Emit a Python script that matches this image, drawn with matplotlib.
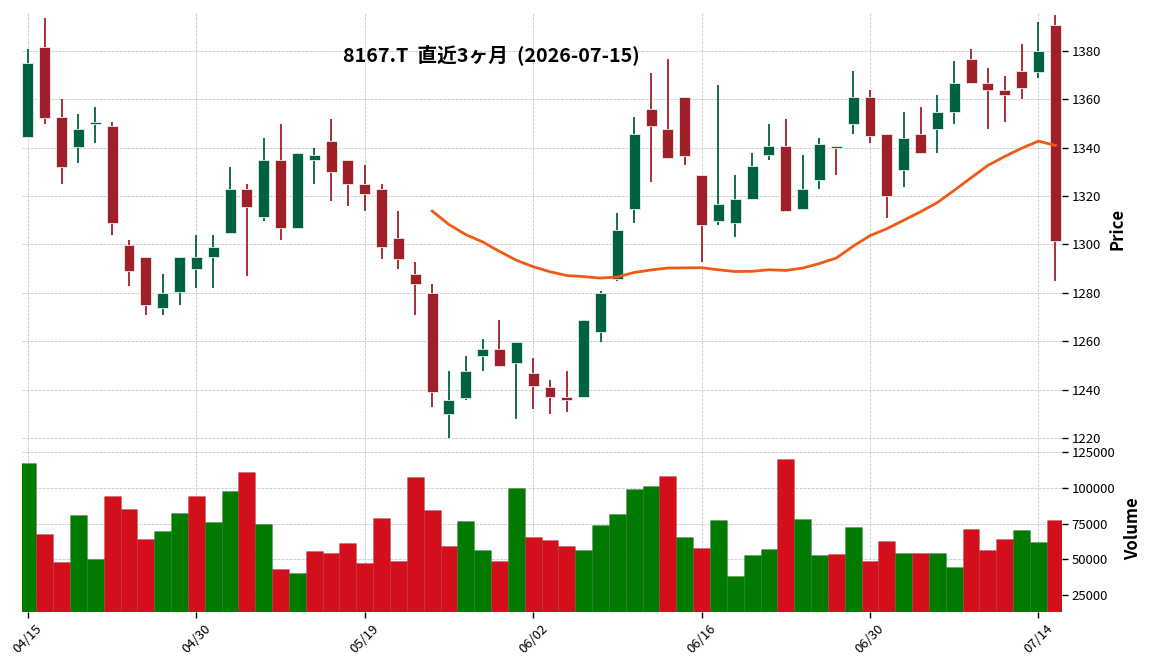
import numpy as np
import pandas as pd
import matplotlib
matplotlib.use("Agg")
import matplotlib.pyplot as plt

plt.rcParams['font.family'] = ['Noto Sans CJK JP', 'DejaVu Sans']

# 8167.T daily candles, last 3 months
dates = pd.bdate_range("2026-04-15", "2026-07-15")
holidays = ["2026-04-29", "2026-05-04", "2026-05-05", "2026-05-06"]
dates = dates[~dates.isin(pd.to_datetime(holidays))]

opens = [1344.6, 1381.8, 1352.8, 1340.4, 1349.7, 1349.1, 1299.9, 1295.0, 1273.6, 1280.5,
         1289.7, 1294.7, 1304.6, 1323.0, 1311.5, 1335.1, 1306.7, 1334.8, 1342.9, 1335.1,
         1325.1, 1322.9, 1302.8, 1287.8, 1280.1, 1229.8, 1236.7, 1253.7, 1256.9, 1250.8,
         1247.0, 1241.2, 1237.1, 1236.8, 1263.7, 1285.6, 1314.5, 1356.2, 1347.9, 1361.1,
         1328.9, 1309.6, 1308.7, 1318.7, 1336.9, 1340.9, 1314.5, 1326.5, 1340.9, 1349.7,
         1361.1, 1345.8, 1330.7, 1345.8, 1347.6, 1354.6, 1376.8, 1366.9, 1364.0, 1371.9,
         1371.5, 1390.9]
highs = [1380.7, 1393.6, 1360.0, 1353.9, 1356.8, 1350.5, 1301.8, 1295.0, 1287.8, 1295.0,
         1303.9, 1303.9, 1332.2, 1325.0, 1344.0, 1349.8, 1338.0, 1340.0, 1351.9, 1335.1,
         1332.9, 1325.0, 1313.8, 1292.6, 1283.7, 1247.8, 1253.9, 1260.9, 1268.6, 1259.8,
         1253.1, 1244.0, 1247.8, 1268.9, 1280.9, 1313.0, 1352.7, 1370.9, 1376.6, 1361.1,
         1328.9, 1365.9, 1328.7, 1337.8, 1349.8, 1351.9, 1337.0, 1344.0, 1340.9, 1371.7,
         1363.9, 1345.8, 1354.8, 1356.8, 1361.7, 1375.9, 1380.7, 1373.0, 1369.7, 1382.9,
         1392.1, 1394.7]
lows = [1344.0, 1349.8, 1325.0, 1333.7, 1342.0, 1303.9, 1282.8, 1270.8, 1270.8, 1275.0,
        1282.0, 1282.0, 1304.6, 1287.0, 1309.6, 1301.8, 1306.7, 1325.0, 1318.0, 1315.9,
        1313.8, 1294.0, 1289.9, 1270.8, 1232.7, 1220.0, 1235.5, 1247.8, 1249.6, 1228.0,
        1232.0, 1230.0, 1230.7, 1236.8, 1259.8, 1285.0, 1308.9, 1325.8, 1335.6, 1332.9,
        1292.7, 1308.2, 1302.9, 1318.7, 1334.9, 1313.7, 1314.5, 1323.0, 1328.7, 1345.7,
        1341.8, 1310.9, 1323.8, 1337.7, 1337.8, 1349.8, 1366.6, 1347.7, 1350.8, 1360.0,
        1368.8, 1284.9]
closes = [1375.2, 1352.4, 1331.9, 1347.9, 1350.8, 1308.7, 1288.9, 1274.8, 1280.1, 1295.0,
          1294.8, 1299.1, 1323.0, 1315.6, 1335.1, 1306.7, 1338.0, 1337.1, 1329.8, 1324.9,
          1320.7, 1298.8, 1293.9, 1283.5, 1238.9, 1235.8, 1247.8, 1256.9, 1249.6, 1259.8,
          1241.4, 1236.8, 1235.7, 1268.9, 1280.1, 1306.1, 1345.8, 1348.8, 1335.6, 1336.7,
          1307.9, 1316.9, 1318.9, 1332.3, 1340.9, 1313.7, 1323.0, 1341.6, 1339.9, 1361.1,
          1344.7, 1319.9, 1344.2, 1337.7, 1354.9, 1366.9, 1366.6, 1363.7, 1361.7, 1364.6,
          1380.1, 1301.6]
volumes = [117500, 67900, 48300, 81200, 49900, 94500, 85400, 64400, 70000, 82600,
           94500, 76300, 98000, 111200, 74900, 43400, 40600, 56000, 54600, 61600,
           47600, 79100, 49000, 107700, 84700, 59500, 77000, 56700, 49000, 100100,
           65800, 63700, 59500, 56700, 74200, 81900, 99400, 101500, 108400, 65800,
           58100, 77700, 38500, 53200, 57400, 120300, 78400, 53200, 53900, 72800,
           49000, 63000, 54600, 54600, 54600, 44800, 71400, 56700, 64400, 70700,
           62300, 77700]

df = pd.DataFrame({"Open": opens, "High": highs, "Low": lows,
                   "Close": closes, "Volume": volumes}, index=dates)
mav = df["Close"].rolling(25).mean()

up_c, down_c = "#006340", "#a01f28"
vup_c, vdown_c = "#007a00", "#d40f1c"

W, H = 1152, 670
fig = plt.figure(figsize=(W / 100, H / 100), dpi=100)
left, right = 21.7 / W, 1062 / W
ax = fig.add_axes([left, (H - 445) / H, right - left, (445 - 12) / H])
axv = fig.add_axes([left, (H - 612) / H, right - left, (612 - 445) / H], sharex=ax)

x = np.arange(len(df))
o, c = df["Open"].values, df["Close"].values
up = c >= o
cols = np.where(up, up_c, down_c)

# wicks then bodies
ax.vlines(x, df["Low"], df["High"], colors=cols, linewidth=1.3, zorder=2)
bottom = np.minimum(o, c)
height = np.abs(c - o)
height = np.where(height < 0.6, 0.6, height)
ax.bar(x, height, bottom=bottom, width=0.65, color=cols,
       edgecolor="#e8f0ec", linewidth=0.6, zorder=3)
ax.plot(x, mav.values, color="#f05a14", linewidth=2, zorder=4)

# volume colored by close vs previous close
prev = np.r_[o[0], c[:-1]]
vcols = np.where(c > prev, vup_c, vdown_c)
vcols[0] = vup_c if c[0] >= o[0] else vdown_c
axv.bar(x, df["Volume"], width=1.0, color=vcols, edgecolor="#00000022",
        linewidth=0.6, zorder=2)

ax.set_xlim(-0.37, 61.4)
ax.set_ylim(1217.1, 1396.1)
axv.set_ylim(13100, 130100)

for a in (ax, axv):
    for s in a.spines.values():
        s.set_visible(False)
    a.grid(True, linestyle="--", linewidth=0.55, color="#c4c4c4", zorder=0)
    a.set_axisbelow(True)
    a.yaxis.tick_right()
    a.yaxis.set_label_position("right")
    a.tick_params(axis="y", length=4, width=1, labelsize=9.5, pad=3)

ax.set_yticks(np.arange(1220, 1381, 20))
axv.set_yticks(np.arange(25000, 125001, 25000))
ax.tick_params(axis="x", bottom=False, labelbottom=False)

ticks = np.arange(0, len(df), 10)
axv.set_xticks(ticks)
axv.set_xticklabels([d.strftime("%m/%d") for d in df.index[ticks]], rotation=45)
axv.tick_params(axis="x", length=4, width=1, labelsize=9.5)

ax.set_ylabel("Price", fontsize=12, fontweight="bold", labelpad=5)
axv.set_ylabel("Volume", fontsize=12, fontweight="bold", labelpad=6)

fig.text(491 / W, 1 - 55 / H, "8167.T  直近3ヶ月  (2026-07-15)",
         ha="center", va="center", fontsize=14.2, fontweight="bold")

fig.savefig("out.png", dpi=100)
